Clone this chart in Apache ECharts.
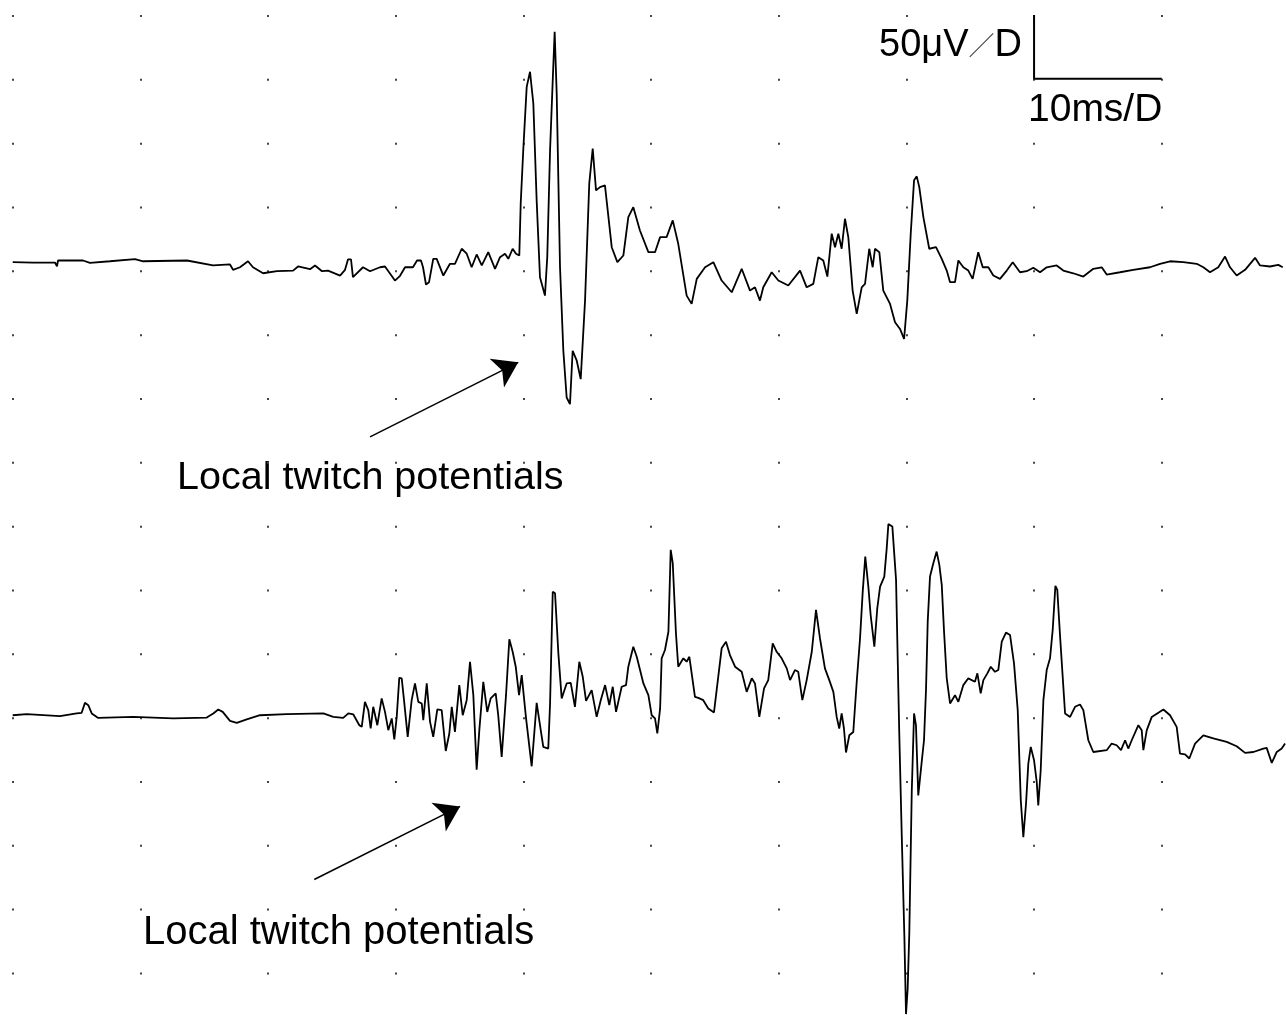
<!DOCTYPE html>
<html>
<head>
<meta charset="utf-8">
<title>Local twitch potentials</title>
<script src="https://cdn.jsdelivr.net/npm/echarts@6/dist/echarts.min.js"></script>
<style>
  html, body { margin: 0; padding: 0; background: #fff; }
  #chart { width: 1286px; height: 1015px; }
</style>
</head>
<body>
<div id="chart"></div>
<script>
// upper trace: time (ms) and amplitude (uV)
const trace1Ms = [
  0, 1.59, 3.31, 3.47, 3.55, 5.51, 6.05, 7.62, 9.58, 10.21,
  13.65, 15.69, 17.02, 17.26, 17.80, 18.43, 18.82, 19.61, 20.70, 21.96,
  22.35, 23.29, 23.68, 24.23, 24.70, 25.64, 26.03, 26.26, 26.50, 26.65,
  27.44, 27.99, 28.77, 29.16, 29.94, 30.34, 30.73, 31.35, 31.67, 31.98,
  32.14, 32.37, 32.61, 32.94, 33.21, 33.73, 34.25, 34.64, 35.17, 35.56,
  35.95, 36.34, 36.74, 37.25, 37.78, 38.17, 38.56, 38.82, 39.16, 39.42,
  39.68, 39.79, 39.99, 40.26, 40.52, 40.78, 41.04, 41.30, 41.69, 41.87,
  42.09, 42.30, 42.45, 42.61, 42.87, 43.13, 43.39, 43.65, 43.86, 44.18,
  44.49, 44.83, 45.16, 45.43, 45.69, 46.00, 46.39, 46.92, 47.36, 47.83,
  48.22, 48.61, 49.13, 49.79, 50.31, 50.71, 51.22, 51.70, 52.13, 52.79,
  53.18, 53.58, 54.23, 54.88, 55.53, 56.32, 57.10, 57.75, 58.14, 58.53,
  58.79, 59.45, 59.97, 60.75, 61.67, 62.19, 62.71, 63.10, 63.49, 63.81,
  64.15, 64.41, 64.67, 64.93, 65.19, 65.45, 65.79, 66.11, 66.50, 66.76,
  67.09, 67.36, 67.54, 67.88, 68.19, 68.72, 69.11, 69.50, 69.82, 70.07,
  70.34, 70.60, 70.81, 71.01, 71.33, 71.79, 72.32, 72.77, 73.16, 73.42,
  73.81, 74.07, 74.46, 74.85, 75.19, 75.63, 75.98, 76.42, 76.81, 77.33,
  77.86, 78.33, 78.90, 79.42, 79.94, 80.47, 80.99, 81.77, 82.29, 83.07,
  83.86, 84.64, 85.30, 85.69, 86.73, 87.77, 89.08, 89.87, 90.65, 91.69,
  92.74, 93.26, 93.78, 94.43, 94.96, 95.35, 95.87, 96.53, 97.31, 97.70,
  98.48, 99.13, 99.48
];
const trace1Uv = [
  6.4, 6.1, 6.1, 3.2, 7.7, 7.7, 5.9, 7.1, 8.7, 7.1,
  7.7, 3.8, 4.6, 0.4, 2.4, 7.1, 2.4, -2.3, -0.7, -0.2,
  3.0, 0.9, 3.8, -0.7, -0.2, -4.1, 0.4, 8.5, 8.5, -5.4,
  2.4, -0.7, 2.4, 3.0, -8.0, -4.3, 2.4, 2.4, 7.7, 7.7,
  2.4, -11.1, -9.3, 9.0, 9.0, -4.1, 5.1, 5.1, 16.9, 13.0,
  2.4, 12.4, 3.8, 14.2, 1.2, 10.3, 13.0, 9.0, 16.9, 13.0,
  11.6, 52.2, 94.0, 143.7, 155.5, 130.7, 54.8, -5.4, -19.8, 10.3,
  94.0, 149.0, 186.9, 138.5, 2.4, -63.0, -99.6, -104.8, -63.0, -70.8,
  -85.2, -23.7, 67.9, 95.4, 62.6, 65.2, 66.6, 18.1, 6.4, 11.6,
  41.7, 49.5, 31.2, 14.2, 14.2, 26.0, 26.0, 39.1, 20.8, -19.8,
  -26.3, -6.7, 2.4, 6.4, -8.0, -17.2, 1.2, -15.9, -13.3, -23.7,
  -13.3, -1.5, -8.0, -11.9, -0.2, -13.3, -10.6, 10.3, 7.7, -4.9,
  28.7, 18.1, 28.7, 16.9, 40.4, 26.0, -15.9, -34.1, -13.3, -10.6,
  16.9, 2.4, 16.9, 14.2, -15.9, -26.3, -40.7, -45.9, -53.8, -23.7,
  28.7, 70.5, 73.6, 65.2, 41.7, 16.9, 18.1, 9.0, -0.2, -9.3,
  -9.3, 7.7, 2.4, -0.2, -6.7, 14.2, 2.4, 2.4, -4.1, -6.7,
  -0.2, 6.4, -1.5, -0.7, 2.0, -1.5, 2.4, 3.8, -0.2, -2.3,
  -4.9, 1.2, 2.4, -3.3, -1.5, 0.4, 2.4, 5.1, 7.1, 6.4,
  5.1, 2.4, -1.5, 2.4, 10.8, 2.4, -4.1, 0.4, 9.8, 3.8,
  3.0, 4.3, 2.4
];

// lower trace
const trace2Ms = [
  0, 1.10, 3.70, 5.01, 5.40, 5.66, 5.92, 6.19, 6.70, 9.45,
  12.58, 15.20, 15.71, 16.10, 16.45, 17.02, 17.55, 18.33, 19.37, 21.46,
  24.33, 25.11, 25.89, 26.29, 26.68, 27.15, 27.34, 27.59, 27.85, 28.04,
  28.24, 28.56, 28.90, 29.16, 29.42, 29.69, 29.89, 30.08, 30.28, 30.47,
  30.65, 30.94, 31.25, 31.51, 31.77, 32.04, 32.16, 32.43, 32.69, 32.94,
  33.26, 33.60, 33.92, 34.20, 34.39, 34.64, 34.98, 35.25, 35.56, 35.82,
  36.08, 36.34, 36.55, 36.86, 37.17, 37.44, 37.83, 38.03, 38.30, 38.64,
  38.90, 39.16, 39.40, 39.66, 39.87, 40.21, 40.65, 41.04, 41.36, 41.56,
  41.95, 42.09, 42.30, 42.48, 42.74, 43.00, 43.39, 43.71, 44.04, 44.38,
  44.65, 44.91, 45.35, 45.74, 46.06, 46.40, 46.73, 47.00, 47.26, 47.70,
  48.04, 48.22, 48.61, 48.88, 49.40, 49.79, 50.05, 50.31, 50.49, 50.71,
  50.83, 51.09, 51.36, 51.54, 51.70, 51.95, 52.13, 52.53, 52.79, 53.00,
  53.44, 53.70, 54.09, 54.48, 54.93, 55.53, 55.87, 56.18, 56.58, 57.10,
  57.49, 57.89, 58.14, 58.48, 58.85, 59.18, 59.53, 59.84, 60.23, 60.63,
  60.89, 61.27, 61.53, 61.85, 62.19, 62.59, 62.92, 63.23, 63.62, 63.96,
  64.28, 64.54, 64.74, 64.93, 65.11, 65.27, 65.53, 65.84, 66.11, 66.37,
  66.58, 66.78, 67.02, 67.20, 67.49, 67.72, 67.94, 68.27, 68.46, 68.59,
  68.90, 69.19, 69.44, 69.63, 69.84, 69.97, 70.10, 70.23, 70.42, 70.60,
  70.75, 70.93, 71.20, 71.38, 71.54, 71.67, 71.85, 72.11, 72.37, 72.58,
  72.77, 72.95, 73.16, 73.42, 73.81, 74.07, 74.46, 74.85,
  75.37, 75.56, 75.82, 76.03, 76.34, 76.61, 76.94, 77.20, 77.47, 77.80,
  78.12, 78.43, 78.72, 78.96, 79.16, 79.37, 79.55, 79.74, 80.00, 80.21,
  80.33, 80.52, 80.73, 80.99, 81.25, 81.46, 81.67, 81.82, 82.04, 82.43,
  82.82, 83.21, 83.60, 83.86, 84.25, 84.64, 85.69, 86.08, 86.47, 86.81,
  87.13, 87.38, 87.65, 88.17, 88.43, 88.56, 88.83, 89.22, 90.13, 90.65,
  91.17, 91.43, 91.83, 92.16, 92.61, 93.26, 94.04, 95.09, 95.87, 96.53,
  97.18, 97.96, 98.22, 98.62, 99.01, 99.40, 99.66
];
const trace2Uv = [
  0.5, 1.3, -0.2, 1.9, 2.4, 10.2, 8.4, 1.9, -1.6, -0.8,
  -2.0, -1.3, 1.9, 5.0, 3.1, -3.9, -5.5, -2.8, 0.5, 1.3,
  1.9, -0.8, -1.6, 1.9, 1.1, -7.3, -8.6, 11.0, 4.5, -9.9,
  7.1, -7.3, 13.7, 3.1, -11.2, -2.0, -18.5, -0.8, 29.8, 29.4,
  12.3, -16.5, 12.3, 25.4, 11.0, 9.7, -3.4, 25.4, -4.7, -16.5,
  5.0, 4.5, -27.5, -13.8, 7.1, -12.6, 24.1, 0.5, 12.3, 42.4,
  16.2, -42.1, -11.2, 26.7, 3.1, 13.7, 17.6, 0.5, -32.2, 16.2,
  60.0, 50.2, 38.5, 16.2, 31.9, -2.0, -39.5, 10.2, -11.2, -24.3,
  -25.6, 9.7, 97.3, 96.1, 49.0, 13.7, 25.4, 25.9, 7.1, 42.4,
  30.6, 11.8, 20.2, -0.8, 12.3, 24.1, 8.4, 22.8, 3.1, 22.8,
  24.1, 38.5, 54.2, 46.3, 25.4, 16.2, 0.5, -2.0, -13.8, 5.8,
  45.1, 51.6, 65.9, 130.1, 119.6, 64.7, 38.5, 45.1, 42.4, 46.3,
  14.9, 14.1, 12.3, 5.8, 2.7, 52.9, 58.1, 47.6, 38.5, 34.5,
  18.8, 29.4, 25.4, -0.8, 21.5, 28.0, 56.8, 50.2, 45.1, 37.2,
  28.0, 35.9, 34.5, 12.3, 28.0, 50.2, 83.0, 60.8, 37.2, 28.0,
  18.8, -0.8, -9.9, 1.9, -9.9, -28.7, -15.2, -12.6, 26.7, 60.8,
  97.3, 124.8, 101.3, 79.0, 54.2, 84.3, 101.3, 109.1, 131.4, 150.2,
  148.4, 106.5, -12.6, -91.1, -172.1, -233.6, -214.0, -169.6, -59.7, 1.9,
  -7.3, -62.3, -36.1, -19.1, 21.5, 73.8, 109.1, 119.6, 128.7, 118.3,
  102.6, 65.9, 29.4, 9.7, 16.2, 11.0, 24.1, 29.4,
  26.7, 33.3, 17.6, 28.0, 33.3, 38.5, 34.5, 35.9, 58.1, 65.2,
  63.3, 41.1, 4.5, -66.2, -95.0, -68.8, -37.4, -24.3, -34.8, -51.8,
  -70.1, -42.6, 12.3, 35.9, 45.1, 67.3, 101.8, 98.7, 62.0, 1.9,
  -0.8, 7.1, 8.9, 4.5, -19.1, -28.3, -26.9, -21.7, -23.0, -26.9,
  -19.1, -25.6, -19.1, -7.3, -11.2, -26.9, -11.2, -0.8, 5.0, 0.5,
  -8.6, -29.5, -30.1, -33.4, -21.7, -15.2, -17.7, -20.4, -23.8, -29.0,
  -28.3, -25.6, -25.1, -36.9, -28.3, -25.6, -21.7
];

// calibration bar: 10 ms across, 50 uV up (on the upper trace's scale)
const scaleBarMs = [80, 80, 90];
const scaleBarUv = [200, 150, 150];

// arrows pointing at the twitch potentials [ms, uV], tail then tip
const arrow1 = [[27.99, -130.5], [39.6, -72.1]];
const arrow2 = [[23.62, -128.2], [35.04, -70.9]];

const FONT = '"Liberation Sans", Arial, sans-serif';

const zip = (xs, ys) => xs.map((x, i) => [x, ys[i]]);

const chart = echarts.init(document.getElementById('chart'), null, { renderer: 'canvas' });

const arrowMark = (pts) => ({
  silent: true,
  animation: false,
  symbol: ['none', 'arrow'],
  symbolSize: 24,
  lineStyle: { color: '#000', width: 1.5, type: 'solid' },
  label: { show: false },
  emphasis: { disabled: true },
  data: [[{ coord: pts[0] }, { coord: pts[1] }]]
});

const traceLine = { color: '#000', width: 1.8 };

const option = {
  backgroundColor: '#fff',
  animation: false,
  grid: {
    left: 12.7,
    top: 15,
    width: 1276.7,
    height: 1021.3,
    outerBoundsMode: 'none'
  },
  xAxis: {
    type: 'value',
    min: 0,
    max: 100,
    interval: 10,
    axisLine: { show: false },
    axisTick: { show: false },
    axisLabel: { show: false },
    splitLine: {
      show: true,
      // dotted grid: one dot per division along each vertical line
      lineStyle: { color: '#444', width: 2, type: [2, 61.83] }
    }
  },
  yAxis: [
    { type: 'value', min: -600, max: 200, show: false },
    { type: 'value', min: -251, max: 549, show: false }
  ],
  series: [
    {
      name: 'trace1',
      type: 'line',
      yAxisIndex: 0,
      data: zip(trace1Ms, trace1Uv),
      showSymbol: false,
      symbol: 'none',
      lineStyle: traceLine,
      markLine: arrowMark(arrow1)
    },
    {
      name: 'trace2',
      type: 'line',
      yAxisIndex: 1,
      data: zip(trace2Ms, trace2Uv),
      showSymbol: false,
      symbol: 'none',
      lineStyle: traceLine,
      markLine: arrowMark(arrow2)
    },
    {
      name: 'scale',
      type: 'line',
      yAxisIndex: 0,
      data: zip(scaleBarMs, scaleBarUv),
      showSymbol: false,
      symbol: 'none',
      clip: false,
      lineStyle: { color: '#000', width: 2 }
    }
  ],
  graphic: [
    {
      type: 'text', x: 1022, y: 45.5, silent: true,
      style: {
        text: '50μV{s|／}D',
        font: '38px ' + FONT,
        fill: '#000',
        textAlign: 'right',
        textVerticalAlign: 'middle',
        rich: { s: { font: '26px "Noto Sans CJK SC"', fill: '#444' } }
      }
    },
    {
      type: 'text', x: 1028, y: 110, silent: true,
      style: { text: '10ms/D', font: '39px ' + FONT, fill: '#000', textAlign: 'left', textVerticalAlign: 'middle' }
    },
    {
      type: 'text', x: 177, y: 478.5, silent: true,
      style: { text: 'Local twitch potentials', font: '39.5px ' + FONT, fill: '#000', textAlign: 'left', textVerticalAlign: 'middle' }
    },
    {
      type: 'text', x: 143, y: 933, silent: true,
      style: { text: 'Local twitch potentials', font: '40px ' + FONT, fill: '#000', textAlign: 'left', textVerticalAlign: 'middle' }
    }
  ]
};

chart.setOption(option);
</script>
</body>
</html>
